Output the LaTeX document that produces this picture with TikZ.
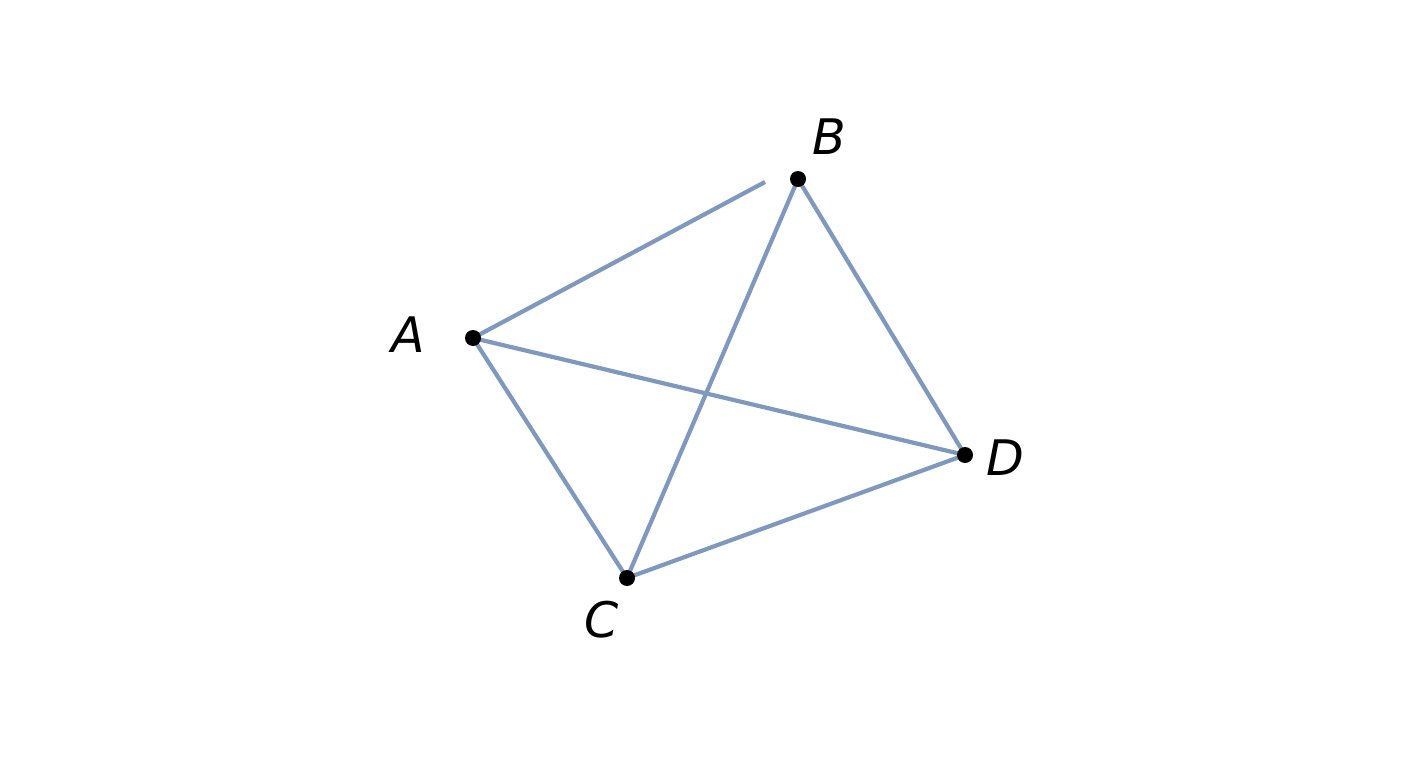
\documentclass[tikz,border=0pt]{standalone}
\usepackage{fontspec}
\setmainfont{DejaVu Sans}
\usetikzlibrary{backgrounds}
\definecolor{edgeblue}{RGB}{127,152,190}
\begin{document}
\begin{tikzpicture}[x=1pt,y=-1pt,
  edge/.style={draw=edgeblue,line width=4.2pt},
  vertex/.style={circle,fill=black,inner sep=0pt,minimum size=16pt},
  lbl/.style={font=\fontsize{49}{49}\selectfont\itshape,inner sep=0pt}]
\useasboundingbox (0,0) rectangle (1408,768);
\node[vertex] (A) at (473,338) {};
\node[vertex] (B) at (798,179) {};
\node[vertex] (C) at (627,578) {};
\node[vertex] (D) at (965,455) {};
\coordinate (E) at (765,182);
\begin{pgfonlayer}{background}
\fill[white] (0,0) rectangle (1408,768);
\draw[edge] (A.center) -- (E);
\draw[edge] (A.center) -- (C.center);
\draw[edge] (A.center) -- (D.center);
\draw[edge] (B.center) -- (C.center);
\draw[edge] (B.center) -- (D.center);
\draw[edge] (C.center) -- (D.center);
\end{pgfonlayer}
\node[lbl] (lA) at (408,335) {A};
\node[lbl] (lB) at (829,137) {B};
\node[lbl] (lC) at (602,620) {C};
\node[lbl] (lD) at (1005,458) {D};
\end{tikzpicture}
\end{document}
